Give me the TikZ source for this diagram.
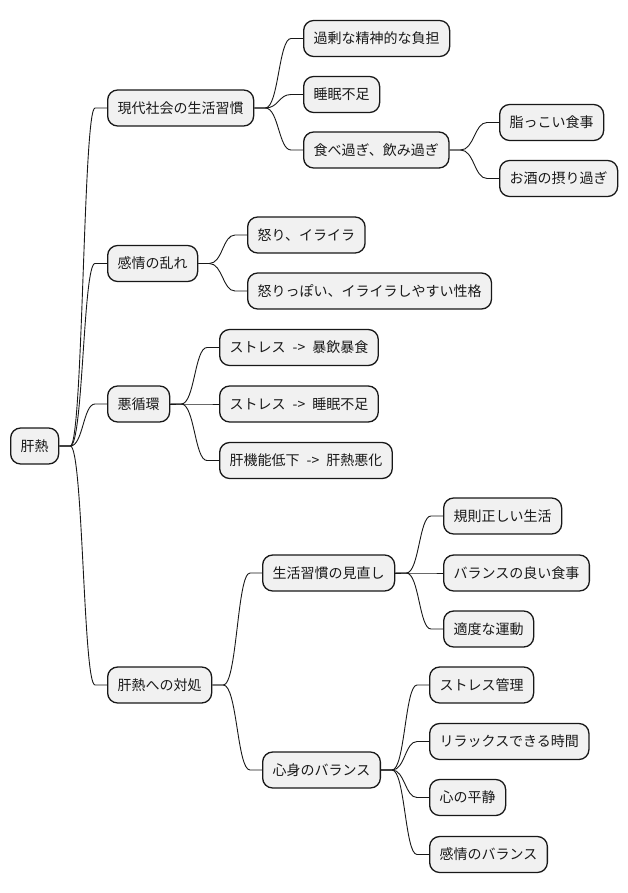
\documentclass[tikz,border=0pt]{standalone}
\usepackage{fontspec}
\setmainfont{Noto Sans CJK JP}
\usetikzlibrary{calc}
\definecolor{boxfill}{HTML}{F1F1F1}
\definecolor{boxline}{HTML}{181818}
\tikzset{
  mmbox/.style={draw=boxline, fill=boxfill, line width=1.3pt, rounded corners=10pt,
    minimum height=36pt, inner xsep=10pt, inner ysep=0pt, anchor=west,
    font=\fontsize{14pt}{16pt}\selectfont, text=black!90},
  mmline/.style={draw=boxline, line width=0.9pt}
}
\newcommand{\mmsp}{\hspace{7pt}}
\newcommand{\mmlink}[2]{%
  \draw[mmline] let \p1=(#1.east), \p2=(#2.west) in
    (\p1) -- (\x1+11pt,\y1)
    .. controls ({(\x1+\x2)/2},\y1) and ({(\x1+\x2)/2},\y2) ..
    (\x2-12pt,\y2) -- (\p2);}
\begin{document}
\begin{tikzpicture}[x=1pt,y=-1pt]
\useasboundingbox (0,0) rectangle (628,893);
\node[mmbox] (r) at (10,446) {肝熱};
\node[mmbox] (a) at (107,108) {現代社会の生活習慣};
\node[mmbox] (a1) at (303,38.5) {過剰な精神的な負担};
\node[mmbox] (a2) at (303,94.5) {睡眠不足};
\node[mmbox] (a3) at (303,150) {食べ過ぎ、飲み過ぎ};
\node[mmbox] (a31) at (499,122.5) {脂っこい食事};
\node[mmbox] (a32) at (499,178.5) {お酒の摂り過ぎ};
\node[mmbox] (b) at (107,263.5) {感情の乱れ};
\node[mmbox] (b1) at (247,235) {怒り、イライラ};
\node[mmbox] (b2) at (247,291) {怒りっぽい、イライラしやすい性格};
\node[mmbox] (c) at (107,404) {悪循環};
\node[mmbox] (c1) at (219,347.5) {ストレス\mmsp{}->\mmsp{}暴飲暴食};
\node[mmbox] (c2) at (219,404) {ストレス\mmsp{}->\mmsp{}睡眠不足};
\node[mmbox] (c3) at (219,460.5) {肝機能低下\mmsp{}->\mmsp{}肝熱悪化};
\node[mmbox] (d) at (107,685) {肝熱への対処};
\node[mmbox] (d1) at (262,573) {生活習慣の見直し};
\node[mmbox] (d11) at (443,516) {規則正しい生活};
\node[mmbox] (d12) at (443,573) {バランスの良い食事};
\node[mmbox] (d13) at (443,629) {適度な運動};
\node[mmbox] (d2) at (262,770) {心身のバランス};
\node[mmbox] (d21) at (429,685) {ストレス管理};
\node[mmbox] (d22) at (429,741.5) {リラックスできる時間};
\node[mmbox] (d23) at (429,797.5) {心の平静};
\node[mmbox] (d24) at (429,854.5) {感情のバランス};
\mmlink{r}{a}\mmlink{r}{b}\mmlink{r}{c}\mmlink{r}{d}
\mmlink{a}{a1}\mmlink{a}{a2}\mmlink{a}{a3}
\mmlink{a3}{a31}\mmlink{a3}{a32}
\mmlink{b}{b1}\mmlink{b}{b2}
\mmlink{c}{c1}\mmlink{c}{c2}\mmlink{c}{c3}
\mmlink{d}{d1}\mmlink{d}{d2}
\mmlink{d1}{d11}\mmlink{d1}{d12}\mmlink{d1}{d13}
\mmlink{d2}{d21}\mmlink{d2}{d22}\mmlink{d2}{d23}\mmlink{d2}{d24}
\end{tikzpicture}
\end{document}
